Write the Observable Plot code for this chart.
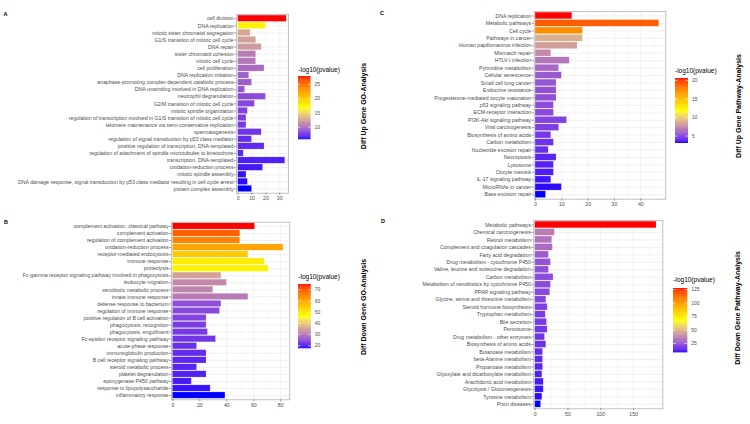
<!DOCTYPE html>
<html><head><meta charset="utf-8">
<script src="https://cdn.jsdelivr.net/npm/d3@7"></script>
<script src="https://cdn.jsdelivr.net/npm/@observablehq/plot@0.6"></script>
<style>
body{margin:0;background:#fff;}
#root{position:relative;width:750px;height:424px;overflow:hidden;font-family:"Liberation Sans",Arial,sans-serif;background:#fff;}
#root svg{position:absolute;max-width:none;}
.plabel{position:absolute;font-weight:bold;font-size:5.5px;line-height:1;color:#000;}
.title{position:absolute;font-size:7px;font-weight:bold;line-height:1;color:#000;white-space:nowrap;transform:translate(-50%,-50%) rotate(-90deg);}
.ltitle{position:absolute;font-size:6.5px;line-height:1;color:#000;white-space:nowrap;}
</style></head><body><div id="root"></div>
<script>
// ---------- Panel A: Diff Up Gene GO-Analysis ----------
const aTerms = ["cell division","DNA replication","mitotic sister chromatid segregation","G1/S transition of mitotic cell cycle","DNA repair","sister chromatid cohesion","mitotic cell cycle","cell proliferation","DNA replication initiation","anaphase-promoting complex-dependent catabolic process","DNA unwinding involved in DNA replication","neutrophil degranulation","G2/M transition of mitotic cell cycle","mitotic spindle organization","regulation of transcription involved in G1/S transition of mitotic cell cycle","telomere maintenance via semi-conservative replication","spermatogenesis","regulation of signal transduction by p53 class mediator","positive regulation of transcription, DNA-templated","regulation of attachment of spindle microtubules to kinetochore","transcription, DNA-templated","oxidation-reduction process","mitotic spindle assembly","DNA damage response, signal transduction by p53 class mediator resulting in cell cycle arrest","protein complex assembly"];
const aCounts = [35,20,9,13,17,13,13,19,8,10,5,20,12,7,6,6,17,10,19,4,34,18,6,7,10];
const aLogP = [27.8,17.5,12.5,12.3,12,10.5,10.3,9.6,9.2,9,8.7,8.2,8,7.8,7.6,7.4,7.2,7,6.8,6.6,6.4,6.2,6,5.8,5.6];
const aLegendTicks = [10,15,20,25];

// ---------- Panel B: Diff Down Gene GO-Analysis ----------
const bTerms = ["complement activation, classical pathway","complement activation","regulation of complement activation","oxidation-reduction process","receptor-mediated endocytosis","immune response","proteolysis","Fc-gamma receptor signaling pathway involved in phagocytosis","leukocyte migration","xenobiotic metabolic process","innate immune response","defense response to bacterium","regulation of immune response","positive regulation of B cell activation","phagocytosis, recognition","phagocytosis, engulfment","Fc-epsilon receptor signaling pathway","acute-phase response","immunoglobulin production","B cell receptor signaling pathway","steroid metabolic process","platelet degranulation","epoxygenase P450 pathway","response to lipopolysaccharide","inflammatory response"];
const bCounts = [61,50,50,82,56,68,71,36,40,30,56,36,35,25,25,26,32,18,25,25,18,25,14,28,39];
const bLogP = [74.7,69,64.6,60,54.6,49,48,34.5,31.6,31,30,24.5,24,23,22.5,22,21.5,21,20.5,20,19.8,19.5,19,18.3,17.3];
const bLegendTicks = [20,30,40,50,60,70];

// ---------- Panel C: Diff Up Gene Pathway-Analysis ----------
const cTerms = ["DNA replication","Metabolic pathways","Cell cycle","Pathways in cancer","Human papillomavirus infection","Mismatch repair","HTLV-I infection","Pyrimidine metabolism","Cellular senescence","Small cell lung cancer","Endocrine resistance","Progesterone-mediated oocyte maturation","p53 signaling pathway","ECM-receptor interaction","PI3K-Akt signaling pathway","Viral carcinogenesis","Biosynthesis of amino acids","Carbon metabolism","Nucleotide excision repair","Necroptosis","Lysosome","Oocyte meiosis","IL-17 signaling pathway","MicroRNAs in cancer","Base excision repair"];
const cCounts = [14,47,18,18,16,6,13,9,10,8,8,8,7,7,12,9,6,7,5,8,7,7,6,10,4];
const cLogP = [20.5,18.75,17,8.8,8.2,7.4,6.7,6.1,5.6,5.4,5.3,5.2,5.1,5,4.8,4.6,4.4,4.2,4,3.8,3.7,3.6,3.4,3.2,3];
const cLegendTicks = [5,10,15,20];

// ---------- Panel D: Diff Down Gene Pathway-Analysis ----------
const dTerms = ["Metabolic pathways","Chemical carcinogenesis","Retinol metabolism","Complement and coagulation cascades","Fatty acid degradation","Drug metabolism - cytochrome P450","Valine, leucine and isoleucine degradation","Carbon metabolism","Metabolism of xenobiotics by cytochrome P450","PPAR signaling pathway","Glycine, serine and threonine metabolism","Steroid hormone biosynthesis","Tryptophan metabolism","Bile secretion","Peroxisome","Drug metabolism - other enzymes","Biosynthesis of amino acids","Butanoate metabolism","beta-Alanine metabolism","Propanoate metabolism","Glyoxylate and dicarboxylate metabolism","Arachidonic acid metabolism","Glycolysis / Gluconeogenesis","Tyrosine metabolism","Prion diseases"];
const dCounts = [185,30,26,27,21,24,21,28,24,23,17,19,16,18,19,15,17,12,12,12,11,13,13,11,9];
const dLogP = [127,34.5,31.5,29.7,25.5,23.7,23,22,21.5,21,19.5,19,18,17.5,17,16.5,15.5,14.5,13.5,13,12,11,10,9,7.6];
const dLegendTicks = [25,50,75,100,125];

const legendTitle = "-log10(pvalue)";
const FONT = '"Liberation Sans", Arial, sans-serif';
const root = document.getElementById("root");

function colorOpts(lo, hi) {
  return {type: "linear", domain: [lo, (lo + hi) / 2, hi], range: ["blue", "yellow", "red"], interpolate: "lab"};
}

function panel(o) {
  const [fx0, fx1, fy0, fy1] = o.frame;
  const width = fx1 - o.left + 8, height = fy1 - o.top + 12;
  const data = o.terms.map((t, i) => ({term: t, count: o.counts[i], p: o.logp[i]}));
  const svg = Plot.plot({
    width, height,
    marginLeft: fx0 - o.left, marginRight: width - (fx1 - o.left),
    marginTop: fy0 - o.top, marginBottom: height - (fy1 - o.top),
    style: {background: "none", fontFamily: FONT, overflow: "visible"},
    x: {domain: o.xdom},
    y: {domain: o.terms, paddingInner: 0.1, paddingOuter: 0.15, round: false},
    color: colorOpts(o.clo, o.chi),
    marks: [
      Plot.gridX(o.minor, {stroke: "#f2f2f2", strokeOpacity: 1, strokeWidth: 0.5}),
      Plot.gridX(o.ticks, {stroke: "#ebebeb", strokeOpacity: 1, strokeWidth: 0.7}),
      Plot.gridY({stroke: "#ebebeb", strokeOpacity: 1, strokeWidth: 0.7}),
      Plot.barX(data, {x: "count", y: "term", fill: "p", stroke: "#fff", strokeOpacity: 0.45, strokeWidth: 0.5}),
      Plot.frame({stroke: "#b3b3b3", strokeWidth: 0.8}),
      Plot.axisY({tickSize: 2, tickPadding: 1, fontSize: 5.2, fill: "#4d4d4d", stroke: "#333", strokeWidth: 0.5, label: null}),
      Plot.axisX(o.ticks, {tickSize: 2, tickPadding: 1.2, fontSize: 5.2, fill: "#4d4d4d", stroke: "#333", strokeWidth: 0.5, label: null})
    ]
  });
  svg.style.left = o.left + "px";
  svg.style.top = o.top + "px";
  root.appendChild(svg);
}

function legend(o) {
  const {clo, chi, ticks, bx0, bx1, by0, by1} = o;
  const bw = bx1 - bx0, W = 40, pad = 4;
  const n = 120, step = (chi - clo) / n;
  const samples = d3.range(n).map(i => clo + i * step);
  const svg = Plot.plot({
    width: W, height: (by1 - by0) + 2 * pad,
    marginLeft: 0, marginRight: W - bw, marginTop: pad, marginBottom: pad,
    style: {background: "none", fontFamily: FONT, overflow: "visible"},
    x: {domain: [0, 1], axis: null},
    y: {domain: [clo, chi], axis: null},
    color: colorOpts(clo, chi),
    marks: [
      Plot.rect(samples, {x1: 0, x2: 1, y1: d => d, y2: d => Math.min(chi, d + step * 1.8), fill: d => d + step / 2}),
      Plot.ruleY(ticks, {x1: 0, x2: 0.2, stroke: "white", strokeWidth: 0.6}),
      Plot.ruleY(ticks, {x1: 0.8, x2: 1, stroke: "white", strokeWidth: 0.6}),
      Plot.text(ticks, {x: 1, y: d => d, dx: 3.5, textAnchor: "start", fontSize: 5, fill: "#4d4d4d"})
    ]
  });
  svg.style.left = bx0 + "px";
  svg.style.top = (by0 - pad) + "px";
  root.appendChild(svg);
  const t = document.createElement("div");
  t.className = "ltitle";
  t.textContent = legendTitle;
  t.style.left = bx0 + "px";
  t.style.top = (o.ty - 3.5) + "px";
  root.appendChild(t);
}

function addText(cls, txt, x, y) {
  const d = document.createElement("div");
  d.className = cls; d.textContent = txt;
  d.style.left = x + "px"; d.style.top = y + "px";
  root.appendChild(d);
}

panel({terms: aTerms, counts: aCounts, logp: aLogP, clo: 5.6, chi: 27.8, left: 0, top: 0,
  frame: [236, 288, 14, 192.7], xdom: [-1.2, 36.3], ticks: [0, 10, 20, 30], minor: [5, 15, 25, 35]});
panel({terms: bTerms, counts: bCounts, logp: bLogP, clo: 17.3, chi: 74.7, left: 0, top: 212,
  frame: [171, 289.3, 221.7, 399.3], xdom: [-1, 86.7], ticks: [0, 20, 40, 60, 80], minor: [10, 30, 50, 70]});
panel({terms: cTerms, counts: cCounts, logp: cLogP, clo: 3, chi: 20.5, left: 375, top: 0,
  frame: [533.7, 665.3, 11, 198.7], xdom: [-0.5, 49.5], ticks: [0, 10, 20, 30, 40], minor: [5, 15, 25, 35, 45]});
panel({terms: dTerms, counts: dCounts, logp: dLogP, clo: 7.6, chi: 127, left: 375, top: 212,
  frame: [533.3, 662.3, 220, 408.3], xdom: [-2.1, 194.5], ticks: [0, 50, 100, 150], minor: [25, 75, 125, 175]});

legend({clo: 5.6, chi: 27.8, ticks: aLegendTicks, bx0: 298.3, bx1: 310.7, by0: 76, by1: 139.3, ty: 70.7});
legend({clo: 17.3, chi: 74.7, ticks: bLegendTicks, bx0: 298.3, bx1: 311, by0: 284, by1: 348.3, ty: 277.3});
legend({clo: 3, chi: 20.5, ticks: cLegendTicks, bx0: 675, bx1: 688, by0: 78.3, by1: 143.3, ty: 71.7});
legend({clo: 7.6, chi: 127, ticks: dLegendTicks, bx0: 673.3, bx1: 687.5, by0: 288.3, by1: 352.7, ty: 280});

addText("title", "Diff Up Gene GO-Analysis", 363, 106);
addText("title", "Diff Down Gene GO-Analysis", 363, 307);
addText("title", "Diff Up Gene Pathway-Analysis", 737.5, 105.5);
addText("title", "Diff Down Gene Pathway-Analysis", 737, 308);

addText("plabel", "A", 3.5, 12);
addText("plabel", "B", 4, 219.5);
addText("plabel", "C", 380, 10.5);
addText("plabel", "D", 381, 218.5);
</script>
</body></html>
